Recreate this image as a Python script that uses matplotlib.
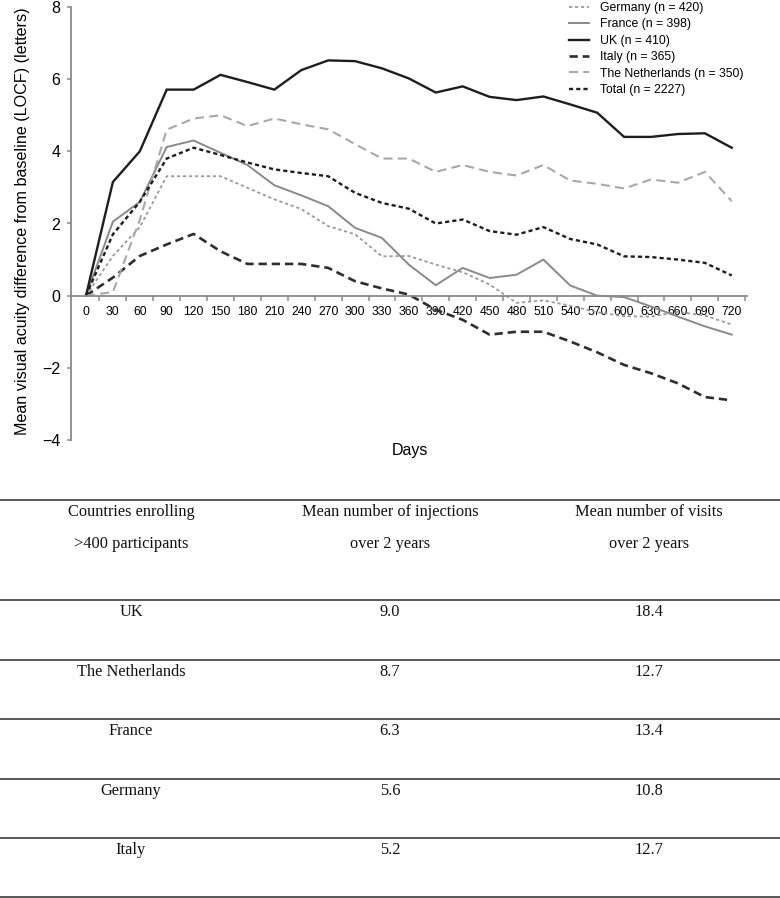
import matplotlib
matplotlib.use("Agg")
import matplotlib.pyplot as plt
import numpy as np

# ---------------- data ----------------
days = list(range(0, 721, 30))
germany = [0, 1.1, 1.9, 3.31, 3.31, 3.31, 2.99, 2.67, 2.4, 1.93, 1.7, 1.09, 1.1,
           0.86, 0.65, 0.31, -0.2, -0.13, -0.28, -0.46, -0.57, -0.58, -0.45, -0.55, -0.8]
france = [0, 2.05, 2.6, 4.12, 4.3, 3.96, 3.62, 3.06, 2.78, 2.48, 1.88, 1.6, 0.86,
          0.29, 0.77, 0.49, 0.58, 1.0, 0.28, 0.0, -0.04, -0.3, -0.58, -0.85, -1.08]
uk = [0, 3.15, 4.0, 5.71, 5.71, 6.12, 5.92, 5.71, 6.25, 6.52, 6.5, 6.3, 6.02,
      5.63, 5.8, 5.51, 5.42, 5.52, 5.3, 5.07, 4.40, 4.40, 4.48, 4.5, 4.1]
italy = [0, 0.5, 1.1, 1.42, 1.71, 1.23, 0.88, 0.88, 0.88, 0.77, 0.4, 0.2, 0.03,
         -0.39, -0.67, -1.08, -1.0, -1.0, -1.27, -1.57, -1.92, -2.15, -2.43, -2.81, -2.9]
netherlands = [0, 0.1, 2.1, 4.6, 4.91, 5.0, 4.7, 4.91, 4.75, 4.61, 4.2, 3.8, 3.8,
               3.43, 3.62, 3.43, 3.33, 3.62, 3.19, 3.1, 2.97, 3.22, 3.13, 3.43, 2.62]
total = [0, 1.7, 2.6, 3.8, 4.1, 3.9, 3.69, 3.5, 3.4, 3.31, 2.85, 2.57, 2.41,
         2.0, 2.11, 1.79, 1.69, 1.9, 1.57, 1.42, 1.09, 1.07, 1.0, 0.91, 0.56]

series_labels = ["Germany (n = 420)", "France (n = 398)", "UK (n = 410)",
                 "Italy (n = 365)", "The Netherlands (n = 350)", "Total (n = 2227)"]

y_ticks = [-4, -2, 0, 2, 4, 6, 8]

table_header = [["Countries enrolling", ">400 participants"],
                ["Mean number of injections", "over 2 years"],
                ["Mean number of visits", "over 2 years"]]
table_countries = ["UK", "The Netherlands", "France", "Germany", "Italy"]
table_injections = ["9.0", "8.7", "6.3", "5.6", "5.2"]
table_visits = ["18.4", "12.7", "13.4", "10.8", "12.7"]

# ---------------- figure ----------------
plt.rcParams['lines.scale_dashes'] = False
W, H = 780, 898
fig = plt.figure(figsize=(W / 100, H / 100), dpi=100)
sans = ['Liberation Sans', 'DejaVu Sans']
serif = ['Liberation Serif', 'DejaVu Serif']

# axes placement in pixels
ax_left, ax_right = 71, 747
ax_top, ax_bottom = 7, 440
ax = fig.add_axes([ax_left / W, 1 - ax_bottom / H,
                   (ax_right - ax_left) / W, (ax_bottom - ax_top) / H])

styles = [
    dict(color="#9a9a9a", lw=1.3, dashes=(2.3, 2.0)),   # Germany
    dict(color="#8a8a8a", lw=1.4),                        # France
    dict(color="#1e1e1e", lw=1.7),                        # UK
    dict(color="#2e2e2e", lw=1.9, dashes=(6.0, 3.5)),    # Italy
    dict(color="#a8a8a8", lw=1.5, dashes=(6.5, 3.8)),    # Netherlands
    dict(color="#1e1e1e", lw=1.7, dashes=(3.0, 2.2)),    # Total
]
all_series = [germany, france, uk, italy, netherlands, total]
for vals, lab, st in zip(all_series, series_labels, styles):
    ax.plot(days, vals, label=lab, solid_joinstyle='miter', **st)

ax.set_xlim(-16.7, 737)
ax.set_ylim(-4, 8)

for s in ['top', 'right']:
    ax.spines[s].set_visible(False)
ax.spines['bottom'].set_position(('data', 0))
ax.spines['left'].set_color('#8a8a8a')
ax.spines['bottom'].set_color('#8a8a8a')
ax.spines['left'].set_linewidth(1.3)
ax.spines['bottom'].set_linewidth(1.3)

ax.set_yticks(y_ticks)
ax.set_yticklabels([f"{v}" if v >= 0 else f"\u2212{abs(v)}" for v in y_ticks],
                   fontfamily=sans, fontsize=11.5)
ax.tick_params(axis='y', length=3.2, width=1.1, color='#8a8a8a', pad=4.5)

ax.set_xticks(days)
ax.set_xticklabels([str(d) for d in days], fontfamily=sans, fontsize=8.8)
ax.set_xticks([d + 15 for d in days], minor=True)
ax.tick_params(axis='x', which='major', length=0, pad=7.2)
ax.tick_params(axis='x', which='minor', length=3.6, width=1.1, color='#8a8a8a',
               direction='out')

fig.text(410 / W, 1 - 451 / H, "Days", fontfamily=sans, fontsize=11.5,
         ha='center', va='center')
fig.text(23 / W, 1 - 221 / H,
         "Mean visual acuity difference from baseline (LOCF) (letters)",
         fontfamily=sans, fontsize=11.6, rotation=90, ha='center', va='center')

leg = fig.legend(loc='upper left', bbox_to_anchor=(569 / W, 1 - 2.0 / H),
                 frameon=False, borderpad=0, borderaxespad=0,
                 handlelength=1.6, handletextpad=0.95, labelspacing=0.36,
                 prop={'family': sans, 'size': 8.85})

# ---------------- table ----------------
tab = fig.add_axes([0, 0, 1, 1])
tab.set_xlim(0, W)
tab.set_ylim(H, 0)
tab.axis('off')
tab.patch.set_visible(False)

line_ys = [500, 600, 660, 719, 779, 838, 896.5]
for y in line_ys:
    tab.plot([0, W], [y, y], color='#4a4a4a', lw=1.3, solid_capstyle='butt')

col_x = [131, 390, 649]
txt_kw = dict(fontfamily=serif, fontsize=11.8, ha='center', va='center',
              color='#111111')
for cx, (l1, l2) in zip(col_x, table_header):
    tab.text(cx, 512, l1, **txt_kw)
    tab.text(cx, 544, l2, **txt_kw)

for i, (c, inj, vis) in enumerate(zip(table_countries, table_injections, table_visits)):
    y = line_ys[i + 1] + 12
    tab.text(col_x[0], y, c, **txt_kw)
    tab.text(col_x[1], y, inj, **txt_kw)
    tab.text(col_x[2], y, vis, **txt_kw)

fig.savefig("out.png", dpi=100)
